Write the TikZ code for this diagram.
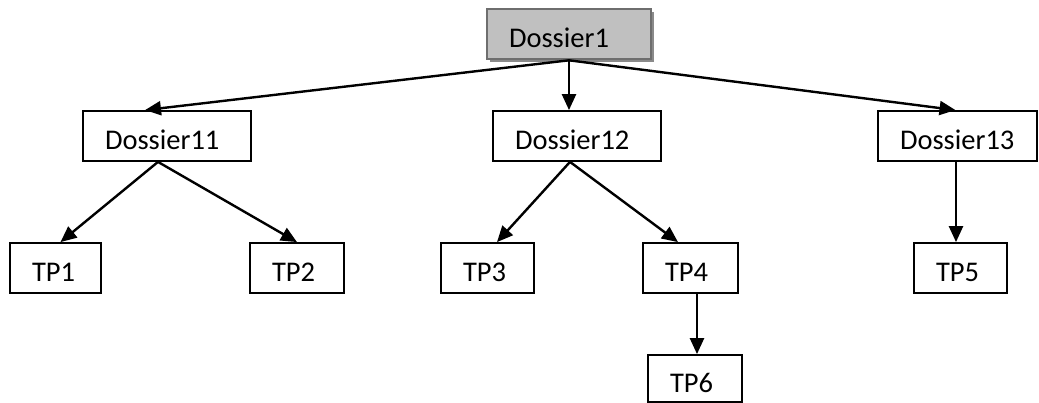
\documentclass[tikz,border=0pt]{standalone}
\usepackage{fontspec}
\setmainfont{Carlito}
\usetikzlibrary{arrows.meta,calc}
\definecolor{boxgray}{HTML}{C0C0C0}
\definecolor{boxedge}{HTML}{6E6E6E}
\definecolor{shadowgray}{HTML}{8A8A8A}
\tikzset{
  box/.style={draw=black, line width=1.8pt, rectangle, inner xsep=22pt, inner ysep=0pt,
    text height=39pt, text depth=11pt, align=left,
    font=\fontsize{28.5}{34}\selectfont},
  conn/.style={line width=2.4pt, -{Triangle[length=16pt,width=14pt]}},
}
\begin{document}
\begin{tikzpicture}[x=1pt,y=-1pt]
\useasboundingbox (0,0) rectangle (1039,403);
% root with shadow
\node[box, draw=none, fill=shadowgray, text width=120pt] (d1s) at (572,37) {\phantom{Dossier1}};
\node[box, draw=boxedge, line width=2.6pt, fill=boxgray, text width=120pt] (d1) at (569,34) {Dossier1};
\node[box, text width=124pt] (d11) at (167,136) {Dossier11};
\node[box, text width=124pt] (d12) at (577,136) {Dossier12};
\node[box, text width=115pt] (d13) at (957.5,136) {Dossier13};
\node[box, text width=47pt] (tp1) at (55.5,268) {TP1};
\node[box, text width=50pt] (tp2) at (297,268) {TP2};
\node[box, text width=49pt] (tp3) at (487.5,268) {TP3};
\node[box, text width=51pt] (tp4) at (690.5,268) {TP4};
\node[box, text width=49pt] (tp5) at (960.5,268) {TP5};
\node[box, text width=50pt, text height=37pt, text depth=10pt] (tp6) at (695,378.5) {TP6};
% connectors
\draw[conn] (d1.south) -- ($(d11.north)+(-22,0)$);
\draw[conn] (d1.south) -- ($(d12.north)+(-8,0)$);
\draw[conn] (d1.south) -- ($(d13.north)+(-2,0)$);
\draw[conn] ($(d11.south)+(-9,0)$) -- ($(tp1.north)+(5,0)$);
\draw[conn] ($(d11.south)+(-9,0)$) -- (tp2.north);
\draw[conn] ($(d12.south)+(-7,0)$) -- ($(tp3.north)+(9.5,0)$);
\draw[conn] ($(d12.south)+(-7,0)$) -- ($(tp4.north)+(-12.5,0)$);
\coordinate (tp4b) at ($(tp4.south)+(6.5,0)$);
\draw[conn] (tp4b) -- (tp4b |- tp6.north);
\coordinate (d13b) at ($(d13.south)+(-1.5,0)$);
\draw[conn] (d13b) -- (d13b |- tp5.north);
\end{tikzpicture}
\end{document}
